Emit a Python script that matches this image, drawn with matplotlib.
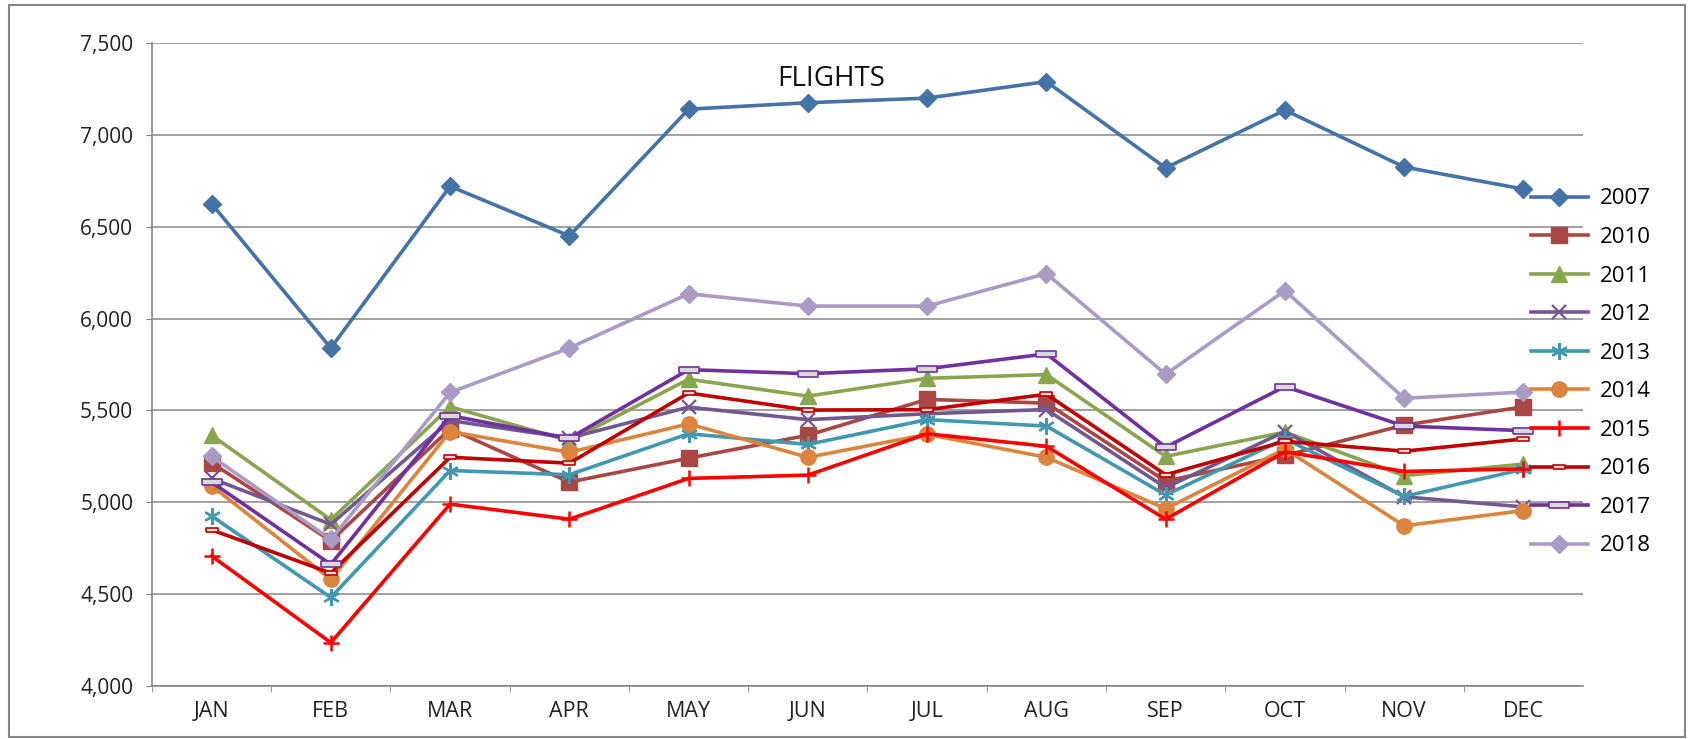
#
# flights.py
#

import matplotlib
matplotlib.use("Agg")
import matplotlib.pyplot as plt
from matplotlib.patches import Rectangle
from matplotlib.ticker import FuncFormatter, FixedLocator


# Données.

mois = ["JAN", "FEB", "MAR", "APR", "MAY", "JUN",
        "JUL", "AUG", "SEP", "OCT", "NOV", "DEC"]

annees = ["2007", "2010", "2011", "2012", "2013",
          "2014", "2015", "2016", "2017", "2018"]

vols_2007 = [6625, 5840, 6720, 6450, 7140, 7175, 7200, 7290, 6820, 7135, 6825, 6705]
vols_2010 = [5215, 4790, 5400, 5110, 5240, 5365, 5560, 5540, 5115, 5255, 5420, 5520]
vols_2011 = [5365, 4905, 5520, 5335, 5670, 5578, 5675, 5695, 5250, 5382, 5145, 5208]
vols_2012 = [5130, 4880, 5445, 5350, 5518, 5450, 5482, 5505, 5080, 5385, 5030, 4975]
vols_2013 = [4925, 4482, 5173, 5150, 5373, 5315, 5450, 5415, 5040, 5345, 5032, 5180]
vols_2014 = [5090, 4580, 5385, 5272, 5427, 5245, 5370, 5245, 4965, 5290, 4872, 4955]
vols_2015 = [4708, 4236, 4990, 4908, 5130, 5148, 5373, 5305, 4908, 5275, 5168, 5182]
vols_2016 = [4850, 4615, 5245, 5213, 5595, 5502, 5504, 5588, 5150, 5332, 5278, 5345]
vols_2017 = [5110, 4662, 5472, 5348, 5722, 5700, 5727, 5808, 5300, 5630, 5415, 5390]
vols_2018 = [5250, 4798, 5598, 5840, 6135, 6068, 6068, 6245, 5697, 6152, 5566, 5600]

series = [vols_2007, vols_2010, vols_2011, vols_2012, vols_2013,
          vols_2014, vols_2015, vols_2016, vols_2017, vols_2018]


# Styles.

tiret = [(-1, -0.32), (1, -0.32), (1, 0.32), (-1, 0.32), (-1, -0.32)]

styles = [
    dict(color="#4572A7", marker="D", ms=9),
    dict(color="#AA4643", marker="s", ms=11),
    dict(color="#89A54E", marker="^", ms=11),
    dict(color="#71588F", marker="x", ms=10, mew=1.6),
    dict(color="#4198AF", marker=(6, 2, 0), ms=12, mew=1.6),
    dict(color="#DB843D", marker="o", ms=11),
    dict(color="#FF0000", marker="+", ms=12, mew=1.8),
    dict(color="#C00000", marker=tiret, ms=9, mfc="#F2DCDB", mew=1.2),
    dict(color="#7030A0", marker=tiret, ms=14, mfc="#D9D9D9", mew=1.2),
    dict(color="#A99BC4", marker="D", ms=9),
]

gris = "#868686"
police = "Open Sans"


# Main.

fig = plt.figure(figsize=(16.92, 7.39), dpi=100)
ax = fig.add_axes([0.0898, 0.0717, 0.8458, 0.8701])

x = list(range(len(mois)))
for nom, valeurs, st in zip(annees, series, styles):
    ax.plot(x, valeurs, label=nom, lw=2.6, **st)

ax.set_ylim(4000, 7500)
ax.set_xlim(-0.5, 11.5)
ax.set_yticks(range(4000, 7501, 500))
ax.yaxis.set_major_formatter(FuncFormatter(lambda v, p: f"{int(v):,}"))
ax.grid(axis="y", color=gris, lw=1.1)
ax.set_axisbelow(True)

ax.set_xticks(x)
ax.set_xticklabels(mois)
ax.xaxis.set_minor_locator(FixedLocator([i + 0.5 for i in range(-1, 11)]))
ax.tick_params(axis="x", which="major", length=0, pad=11, labelsize=15.5, colors="#222222")
ax.tick_params(axis="x", which="minor", length=4.5, color=gris, direction="out")
ax.tick_params(axis="y", length=4.5, color=gris, pad=9, labelsize=15, labelcolor="#222222")
for lab in ax.get_xticklabels() + ax.get_yticklabels():
    lab.set_family(police)

for cote in ["top", "right"]:
    ax.spines[cote].set_visible(False)
for cote in ["left", "bottom"]:
    ax.spines[cote].set_color(gris)
    ax.spines[cote].set_linewidth(1.2)

fig.text(831 / 1692, 1 - 79 / 739, "FLIGHTS", ha="center", va="center",
         fontsize=20, family=police, color="#111111")

leg = fig.legend(loc="center left", bbox_to_anchor=(1511 / 1692, 0.496),
                 frameon=False, prop={"family": police, "size": 16},
                 handlelength=2.55, labelspacing=0.79, handletextpad=0.55)

fig.patches.append(Rectangle((9 / 1692, 2 / 739), 1676 / 1692, 732 / 739,
                             transform=fig.transFigure, fill=False,
                             edgecolor=gris, lw=1.5))

fig.savefig("out.png", dpi=100)
